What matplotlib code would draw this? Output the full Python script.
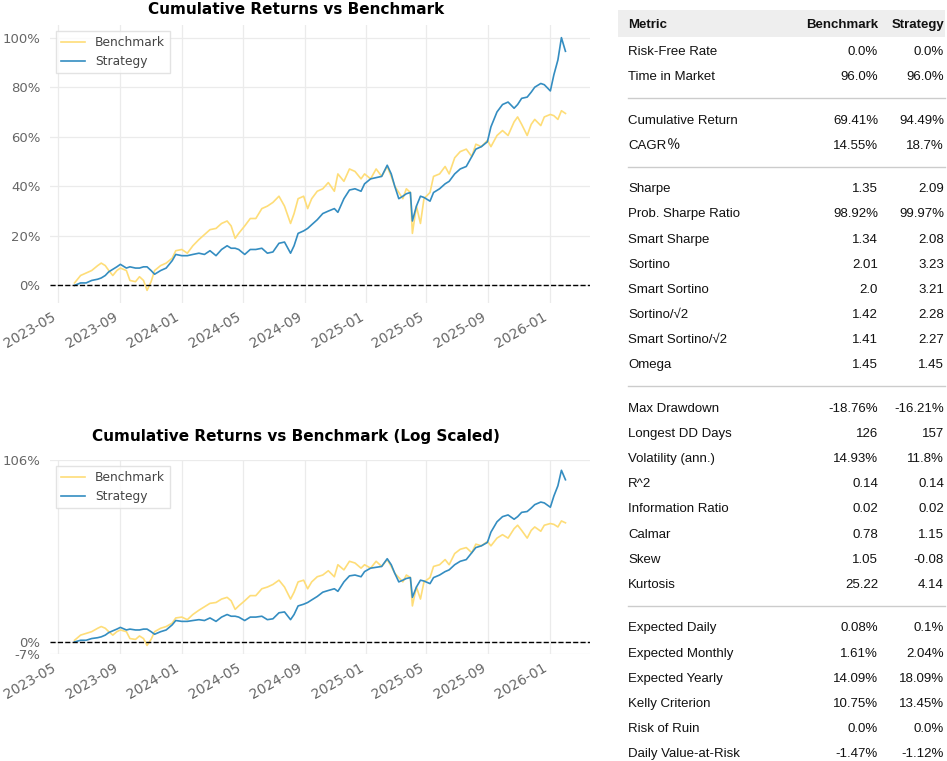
import matplotlib
matplotlib.use('Agg')
import matplotlib.pyplot as plt
import matplotlib.dates as mdates
from matplotlib.ticker import FuncFormatter, NullLocator
import pandas as pd

# cumulative returns (%)
dates = pd.to_datetime([
    "2023-06-02", "2023-06-14", "2023-06-25", "2023-07-06", "2023-07-18", "2023-07-25", "2023-08-02", "2023-08-09", "2023-08-17", "2023-08-25",
    "2023-09-01", "2023-09-13", "2023-09-20", "2023-10-01", "2023-10-09", "2023-10-17", "2023-10-24", "2023-11-01", "2023-11-08", "2023-11-20",
    "2023-12-01", "2023-12-13", "2023-12-20", "2024-01-01", "2024-01-12", "2024-01-23", "2024-02-04", "2024-02-15", "2024-02-26", "2024-03-09",
    "2024-03-20", "2024-03-31", "2024-04-08", "2024-04-16", "2024-04-23", "2024-05-05", "2024-05-16", "2024-05-27", "2024-06-08", "2024-06-19",
    "2024-06-30", "2024-07-12", "2024-07-23", "2024-08-04", "2024-08-11", "2024-08-19", "2024-08-30", "2024-09-07", "2024-09-15", "2024-09-26",
    "2024-10-07", "2024-10-18", "2024-10-30", "2024-11-06", "2024-11-18", "2024-11-29", "2024-12-10", "2024-12-22", "2024-12-29", "2025-01-10",
    "2025-01-21", "2025-02-01", "2025-02-12", "2025-02-20", "2025-02-27", "2025-03-07", "2025-03-15", "2025-03-22", "2025-03-30", "2025-04-03",
    "2025-04-11", "2025-04-19", "2025-04-26", "2025-05-08", "2025-05-15", "2025-05-27", "2025-06-07", "2025-06-15", "2025-06-26", "2025-07-07",
    "2025-07-19", "2025-07-30", "2025-08-07", "2025-08-18", "2025-08-30", "2025-09-06", "2025-09-18", "2025-09-29", "2025-10-10", "2025-10-22",
    "2025-10-29", "2025-11-06", "2025-11-17", "2025-11-25", "2025-12-02", "2025-12-14", "2025-12-21", "2026-01-02", "2026-01-09", "2026-01-17",
    "2026-01-24", "2026-02-01",
])

benchmark_pct = [
    1, 4, 5, 6, 8, 9, 8, 6, 4, 6,
    7, 6, 2, 1.5, 3.5, 2, -2, 1.5, 6, 8,
    9, 11, 14, 14.5, 13, 16, 18.5, 20.5, 22.5, 23,
    25, 26, 24, 19, 21, 24, 27, 27, 31, 32,
    33.5, 36, 32, 25, 29, 35, 36, 31, 35, 38,
    39, 41.5, 38, 45, 42, 47, 46, 43, 45, 43,
    47, 44, 48, 44, 40, 37.5, 35, 39, 37.5, 21,
    32, 25, 35, 37.5, 44, 45, 48, 45, 51.5, 54,
    55, 52, 57, 56, 58.5, 56, 60.5, 62.5, 60.5, 66,
    68, 65, 60.5, 65, 67, 64.5, 68, 69, 68.5, 67,
    70.5, 69.41,
]

strategy_pct = [
    0, 1, 1, 2, 2.5, 3, 4, 5.5, 6.5, 7.5,
    8.5, 7, 7.5, 7, 7, 7.5, 7.5, 6, 4.5, 6,
    7, 10, 12.5, 12, 12, 12.5, 13, 12.5, 14, 12,
    14.5, 16, 15, 15, 14.5, 12.5, 14.5, 14.5, 15, 13,
    13.5, 17, 17.5, 13, 16, 21, 22, 23, 24.5, 26.5,
    29, 30, 31, 29.5, 35, 38.5, 39, 38, 41, 43,
    43.5, 44, 48.5, 45, 40, 35, 36, 37, 37.5, 26,
    32, 36, 35.5, 34, 37.5, 39, 41, 42, 45, 47,
    48, 52, 55, 56, 58, 64, 70, 73, 74, 71.5,
    73, 75.5, 76, 78, 80, 81.5, 81, 78.5, 85, 91,
    100, 94.49,
]

log_ticks = [-7, 0, 106]

# metrics table, None marks a group separator
metrics = [
    "Risk-Free Rate", "Time in Market", None,
    "Cumulative Return", "CAGR﹪", None,
    "Sharpe", "Prob. Sharpe Ratio", "Smart Sharpe", "Sortino", "Smart Sortino",
    "Sortino/√2", "Smart Sortino/√2", "Omega", None,
    "Max Drawdown", "Longest DD Days", "Volatility (ann.)", "R^2", "Information Ratio",
    "Calmar", "Skew", "Kurtosis", None,
    "Expected Daily", "Expected Monthly", "Expected Yearly", "Kelly Criterion",
    "Risk of Ruin", "Daily Value-at-Risk",
]
bench_vals = [
    "0.0%", "96.0%", None,
    "69.41%", "14.55%", None,
    "1.35", "98.92%", "1.34", "2.01", "2.0", "1.42", "1.41", "1.45", None,
    "-18.76%", "126", "14.93%", "0.14", "0.02", "0.78", "1.05", "25.22", None,
    "0.08%", "1.61%", "14.09%", "10.75%", "0.0%", "-1.47%",
]
strat_vals = [
    "0.0%", "96.0%", None,
    "94.49%", "18.7%", None,
    "2.09", "99.97%", "2.08", "3.23", "3.21", "2.28", "2.27", "1.45", None,
    "-16.21%", "157", "11.8%", "0.14", "0.02", "1.15", "-0.08", "4.14", None,
    "0.1%", "2.04%", "18.09%", "13.45%", "0.0%", "-1.12%",
]

BENCH_COLOR = '#fedd78'
STRAT_COLOR = '#348dc1'
TICK_COLOR = '#666666'

W, H = 947, 761
fig = plt.figure(figsize=(W / 100, H / 100), dpi=100)


def pct_fmt(v, _pos):
    return f"{v:.0f}%"


def draw_cum(ax, title, title_y):
    ax.plot(dates, benchmark_pct, color=BENCH_COLOR, lw=1.2, label='Benchmark')
    ax.plot(dates, strategy_pct, color=STRAT_COLOR, lw=1.2, label='Strategy')
    ax.axhline(0, color='black', ls='--', lw=1, zorder=3)
    # title is centred over the whole chart column, like a suptitle
    fig.text(296 / W, 1 - title_y / H, title, ha='center', va='center',
             fontsize=11, fontweight='bold')
    ax.xaxis.set_major_locator(mdates.MonthLocator(bymonth=[1, 5, 9]))
    ax.xaxis.set_major_formatter(mdates.DateFormatter('%Y-%m'))
    ax.yaxis.set_major_formatter(FuncFormatter(pct_fmt))
    ax.grid(True, color='#ebebeb', lw=0.9)
    ax.set_axisbelow(True)
    for s in ax.spines.values():
        s.set_visible(False)
    ax.tick_params(length=0, labelsize=9.5, colors=TICK_COLOR)
    ax.tick_params(axis='y', pad=7)
    ax.tick_params(axis='x', labelsize=10, pad=5)
    for lbl in ax.get_xticklabels():
        lbl.set_rotation(30)
        lbl.set_ha('right')
    leg = ax.legend(loc='upper left', fontsize=8.8, frameon=True,
                    fancybox=False, borderpad=0.4, handlelength=2.0)
    leg.get_frame().set_edgecolor('#dddddd')
    for t in leg.get_texts():
        t.set_color('#444444')


ax1 = fig.add_axes([50 / W, 1 - 303 / H, 540 / W, 278 / H])
draw_cum(ax1, 'Cumulative Returns vs Benchmark', 10)
ax1.set_yticks([0, 20, 40, 60, 80, 100])

ax2 = fig.add_axes([50 / W, 1 - 654 / H, 540 / W, 194 / H])
draw_cum(ax2, 'Cumulative Returns vs Benchmark (Log Scaled)', 436)
ax2.set_yscale('symlog', linthresh=200)
ax2.set_ylim(log_ticks[0], log_ticks[-1])
ax2.set_yticks(log_ticks)
ax2.yaxis.set_major_formatter(FuncFormatter(pct_fmt))
ax2.yaxis.set_minor_locator(NullLocator())

# metrics table
tax = fig.add_axes([618 / W, 0, 329 / W, 1])
tax.set_xlim(0, 329)
tax.set_ylim(H, 0)
tax.axis('off')
font = dict(family=['Liberation Sans', 'Noto Sans CJK SC', 'DejaVu Sans'],
            fontsize=9.5, color='#111111')

tax.add_patch(plt.Rectangle((0, 10), 327, 27, color='#eeeeee', lw=0))
tax.text(10, 25, 'Metric', ha='left', va='center', fontweight='bold', **font)
tax.text(260, 25, 'Benchmark', ha='right', va='center', fontweight='bold', **font)
tax.text(326, 25, 'Strategy', ha='right', va='center', fontweight='bold', **font)


def metric_label(y, name):
    # the small-form percent sign of the CJK font is tiny, so draw it larger
    if name.endswith('﹪'):
        t = tax.text(10, y, name[:-1], ha='left', va='center', **font)
        bb = t.get_window_extent(renderer=fig.canvas.get_renderer())
        x_end = tax.transData.inverted().transform((bb.x1, bb.y0))[0]
        big = dict(font, fontsize=12.5)
        tax.text(x_end - 1.5, y - 2.5, '﹪', ha='left', va='center', **big)
    else:
        tax.text(10, y, name, ha='left', va='center', **font)


ROW = 25.15
y = 52
prev = None
for name, b, s in zip(metrics, bench_vals, strat_vals):
    if name is None:
        sep = prev + 21
        tax.plot([10, 327], [sep, sep], color='#cccccc', lw=1)
        y = prev + 43.5
        continue
    metric_label(y, name)
    tax.text(260, y, b, ha='right', va='center', **font)
    tax.text(326, y, s, ha='right', va='center', **font)
    prev = y
    y += ROW

fig.savefig('out.png', dpi=100)
